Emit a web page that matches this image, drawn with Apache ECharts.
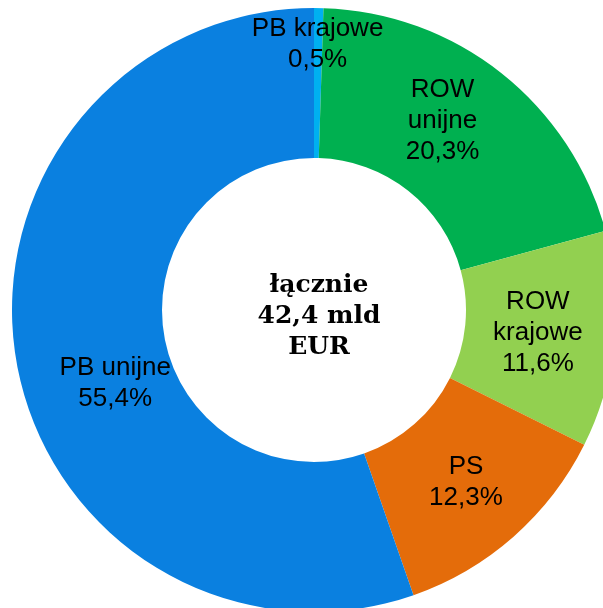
<!DOCTYPE html>
<html>
<head>
<meta charset="utf-8">
<script src="https://cdn.jsdelivr.net/npm/echarts@6/dist/echarts.min.js"></script>
<style>
  html, body { margin: 0; padding: 0; background: #fff; }
  #chart { width: 603px; height: 608px; }
</style>
</head>
<body>
<div id="chart"></div>
<script>
// dane wykresu
var categories = ['PB krajowe', 'ROW\nunijne', 'ROW\nkrajowe', 'PS', 'PB unijne'];
var shares = [0.5, 20.3, 11.6, 12.3, 55.4];
var colors = ['#00B0F0', '#00B050', '#92D050', '#E46C0A', '#0A80E0'];
var totalText = 'łącznie\n42,4 mld\nEUR';

// przesunięcia etykiet (jak w oryginale z Excela)
var labelShift = [[0, -36], [-14, -9], [-5, 0], [0, 0], [28, 35]];

var myChart = echarts.init(document.getElementById('chart'));

var pieData = [];
for (var i = 0; i < categories.length; i++) {
    pieData.push({
        name: categories[i],
        value: shares[i],
        itemStyle: { color: colors[i] },
        label: { offset: labelShift[i] }
    });
}

option = {
    animation: false,
    backgroundColor: '#fff',
    title: {
        text: totalText,
        left: 314,
        top: 265,
        textAlign: 'center',
        textStyle: {
            fontFamily: 'DejaVu Serif',
            fontWeight: 'bold',
            fontSize: 25,
            lineHeight: 31,
            color: '#000'
        }
    },
    series: [
        {
            type: 'pie',
            center: [314, 310],
            radius: [152, 302],
            startAngle: 90,
            clockwise: true,
            avoidLabelOverlap: false,
            itemStyle: { borderWidth: 0 },
            label: {
                show: true,
                position: 'inside',
                color: '#000',
                fontFamily: 'Liberation Sans',
                fontSize: 26,
                lineHeight: 31,
                formatter: function (p) {
                    return p.name + '\n' + String(p.value).replace('.', ',') + '%';
                }
            },
            labelLine: { show: false },
            data: pieData
        }
    ]
};
myChart.setOption(option);
</script>
</body>
</html>
